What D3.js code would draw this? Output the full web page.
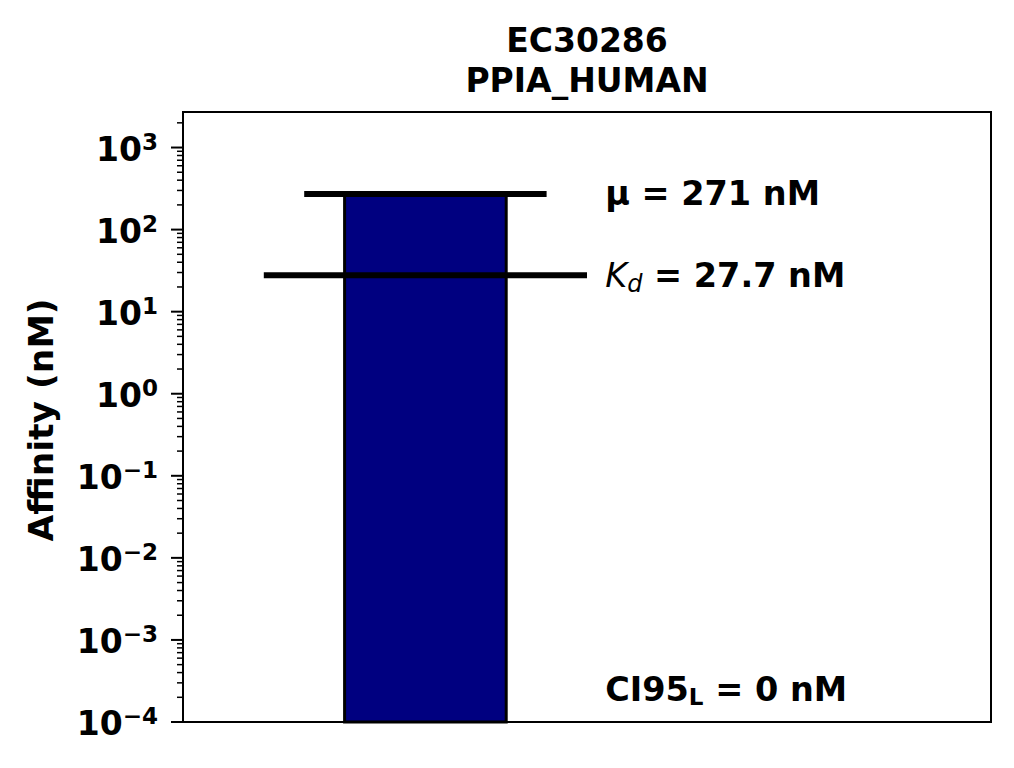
<!DOCTYPE html>
<html>
<head>
<meta charset="utf-8">
<script src="https://cdn.jsdelivr.net/npm/d3@7"></script>
<style>
  body { margin: 0; background: #fff; }
  text { font-family: "DejaVu Sans", sans-serif; }
</style>
</head>
<body>
<div id="chart"></div>
<script>
const WIDTH = 1014;
const HEIGHT = 768;
const margin = { top: 112, right: 23, bottom: 46, left: 183 };

// chart values
const titleLines = ["EC30286", "PPIA_HUMAN"];
const yLabel = "Affinity (nM)";
const meanAffinity = 271;     // mu, nM
const kdAffinity = 27.7;      // Kd, nM
const ci95Lower = 0;          // CI95 lower, nM
const yDomain = [1e-4, 2710];
const tickExponents = [-4, -3, -2, -1, 0, 1, 2, 3];
const xDomain = [-1.2, 2.8];
const barCenter = 0;
const barWidth = 0.8;
const muHalfWidth = 0.6;
const kdHalfWidth = 0.8;
const labelX = 0.9;

const svg = d3.select("#chart")
  .append("svg")
  .attr("width", WIDTH)
  .attr("height", HEIGHT);

const innerW = WIDTH - margin.left - margin.right;
const innerH = HEIGHT - margin.top - margin.bottom;

const x = d3.scaleLinear().domain(xDomain).range([0, innerW]);
const y = d3.scaleLog().domain(yDomain).range([innerH, 0]);

const g = svg.append("g")
  .attr("transform", `translate(${margin.left},${margin.top})`);

// bar (mean)
g.append("rect")
  .attr("x", x(barCenter - barWidth / 2))
  .attr("y", y(meanAffinity))
  .attr("width", x(barCenter + barWidth / 2) - x(barCenter - barWidth / 2))
  .attr("height", y(yDomain[0]) - y(meanAffinity))
  .attr("fill", "#000080")
  .attr("stroke", "#000")
  .attr("stroke-width", 3);

// horizontal lines for mu and Kd
const hlines = [
  { v: meanAffinity, half: muHalfWidth },
  { v: kdAffinity, half: kdHalfWidth }
];
g.selectAll(".hline")
  .data(hlines)
  .enter()
  .append("line")
  .attr("class", "hline")
  .attr("x1", d => x(barCenter - d.half))
  .attr("x2", d => x(barCenter + d.half))
  .attr("y1", d => y(d.v))
  .attr("y2", d => y(d.v))
  .attr("stroke", "#000")
  .attr("stroke-width", 6);

// frame
g.append("rect")
  .attr("x", 0).attr("y", 0)
  .attr("width", innerW).attr("height", innerH)
  .attr("fill", "none")
  .attr("stroke", "#000")
  .attr("stroke-width", 2);

// y ticks (major + minor)
const minorTicks = [];
for (let e = -4; e <= 3; e++) {
  for (let m = 2; m <= 9; m++) {
    const v = m * Math.pow(10, e);
    if (v <= yDomain[1]) minorTicks.push(v);
  }
}
g.selectAll(".minor")
  .data(minorTicks)
  .enter()
  .append("line")
  .attr("x1", -6).attr("x2", 0)
  .attr("y1", d => y(d)).attr("y2", d => y(d))
  .attr("stroke", "#000")
  .attr("stroke-width", 1.5);

g.selectAll(".major")
  .data(tickExponents)
  .enter()
  .append("line")
  .attr("x1", -12).attr("x2", 0)
  .attr("y1", d => y(Math.pow(10, d))).attr("y2", d => y(Math.pow(10, d)))
  .attr("stroke", "#000")
  .attr("stroke-width", 2);

const tickLabels = g.selectAll(".tick-label")
  .data(tickExponents)
  .enter()
  .append("text")
  .attr("class", "tick-label")
  .attr("x", -25)
  .attr("y", d => y(Math.pow(10, d)) + 13)
  .attr("text-anchor", "end")
  .style("font-size", "33px")
  .style("font-weight", "bold");
tickLabels.append("tspan").text("10");
tickLabels.append("tspan")
  .attr("dy", -11)
  .style("font-size", "23px")
  .text(d => d < 0 ? "\u2212" + Math.abs(d) : String(d));

// y label
svg.append("text")
  .attr("transform", `translate(53,${margin.top + innerH / 2 + 3}) rotate(-90)`)
  .attr("text-anchor", "middle")
  .style("font-size", "34.5px")
  .style("font-weight", "bold")
  .text(yLabel);

// title
svg.selectAll(".title")
  .data(titleLines)
  .enter()
  .append("text")
  .attr("x", margin.left + innerW / 2)
  .attr("y", (d, i) => 52 + i * 40)
  .attr("text-anchor", "middle")
  .style("font-size", "33px")
  .style("font-weight", "bold")
  .text(d => d);

// annotations
const tx = x(labelX) - 2;
g.append("text")
  .attr("x", tx)
  .attr("y", y(meanAffinity) + 11)
  .style("font-size", "33.5px")
  .style("font-weight", "bold")
  .text(`\u03bc = ${meanAffinity} nM`);

const kdText = g.append("text")
  .attr("x", tx)
  .attr("y", y(kdAffinity) + 12)
  .style("font-size", "33.5px");
kdText.append("tspan").style("font-style", "italic").text("K");
kdText.append("tspan").style("font-style", "italic").style("font-size", "24px").attr("dy", 5).text("d");
kdText.append("tspan").style("font-weight", "bold").attr("dy", -5).text(` = ${kdAffinity} nM`);

const ciText = g.append("text")
  .attr("x", tx)
  .attr("y", innerH - 21)
  .style("font-size", "33.5px")
  .style("font-weight", "bold");
ciText.append("tspan").text("CI95");
ciText.append("tspan").style("font-size", "23px").attr("dy", 4).text("L");
ciText.append("tspan").attr("dy", -4).text(` = ${ci95Lower} nM`);
</script>
</body>
</html>
